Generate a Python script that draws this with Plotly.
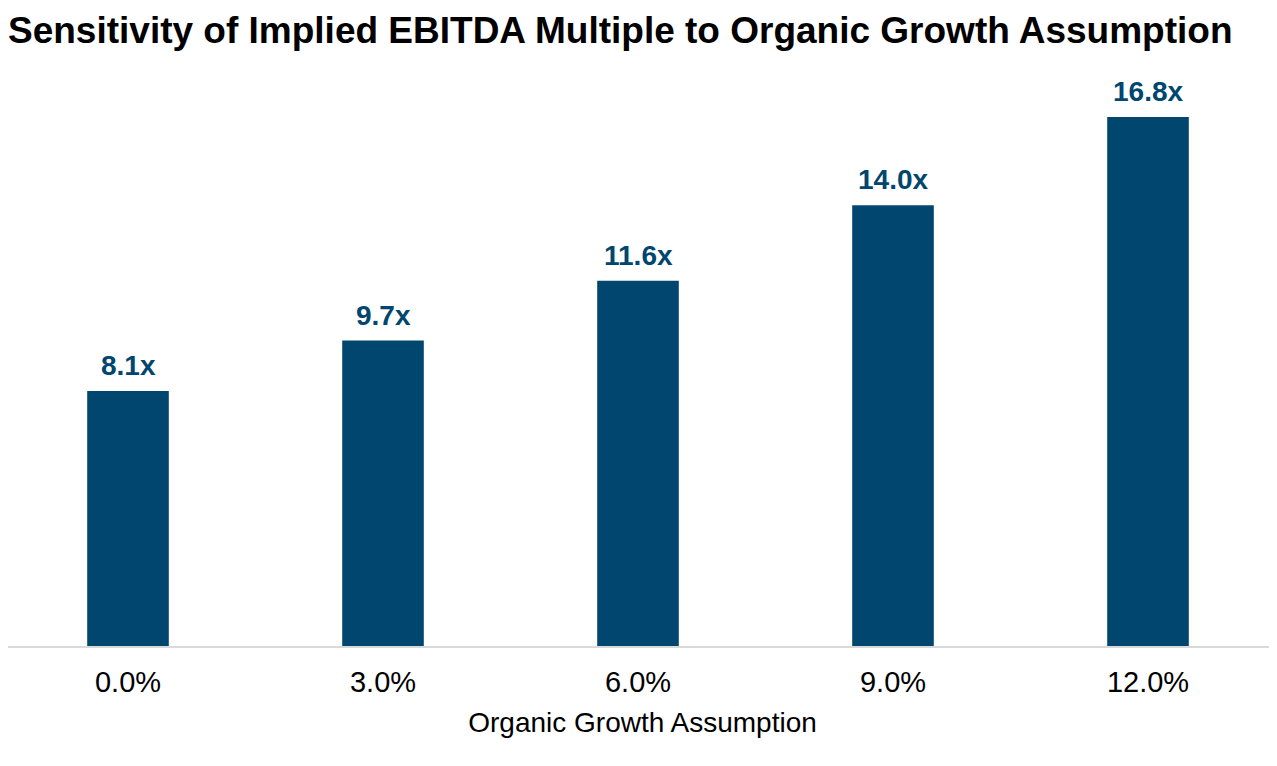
import plotly.graph_objects as go

categories = ["0.0%", "3.0%", "6.0%", "9.0%", "12.0%"]
multiples = [8.1, 9.7, 11.6, 14.0, 16.8]
labels = [f"{v:.1f}x" for v in multiples]

BAR = "#00466E"
FONT = "Liberation Sans, Arial, Helvetica, sans-serif"

fig = go.Figure(go.Bar(
    x=list(range(len(categories))), y=multiples,
    marker=dict(color=BAR, line=dict(width=0)),
    width=0.32,
))

for i, (v, lab) in enumerate(zip(multiples, labels)):
    fig.add_annotation(x=i, y=v, text=f"<b>{lab}</b>", showarrow=False,
                       xanchor="center", yanchor="bottom", yshift=8,
                       font=dict(family=FONT, size=28, color=BAR))

W, H = 1269, 758
r0 = -120 / 255
r1 = r0 + W / 255

fig.update_layout(
    width=W, height=H,
    margin=dict(l=0, r=0, t=52, b=120),
    paper_bgcolor="white", plot_bgcolor="white",
    showlegend=False,
    title=dict(text="<b>Sensitivity of Implied EBITDA Multiple to Organic Growth Assumption</b>",
               x=0, xref="paper", xanchor="left", y=1 - 9 / H, yanchor="top",
               pad=dict(t=0, b=0, l=0, r=0),
               font=dict(family=FONT, size=37, color="black")),
    xaxis=dict(range=[r0, r1], tickmode="array", tickvals=list(range(len(categories))),
               ticktext=categories,
               showline=True, linecolor="#D9D9D9", linewidth=2, ticks="",
               ticklabelstandoff=9, showgrid=False, zeroline=False,
               tickfont=dict(family=FONT, size=29, color="black"),
               title=dict(text="Organic Growth Assumption", standoff=16,
                          font=dict(family=FONT, size=28, color="black"))),
    yaxis=dict(range=[0, 18.61], visible=False, showgrid=False),
)

fig.write_html("out.html")
